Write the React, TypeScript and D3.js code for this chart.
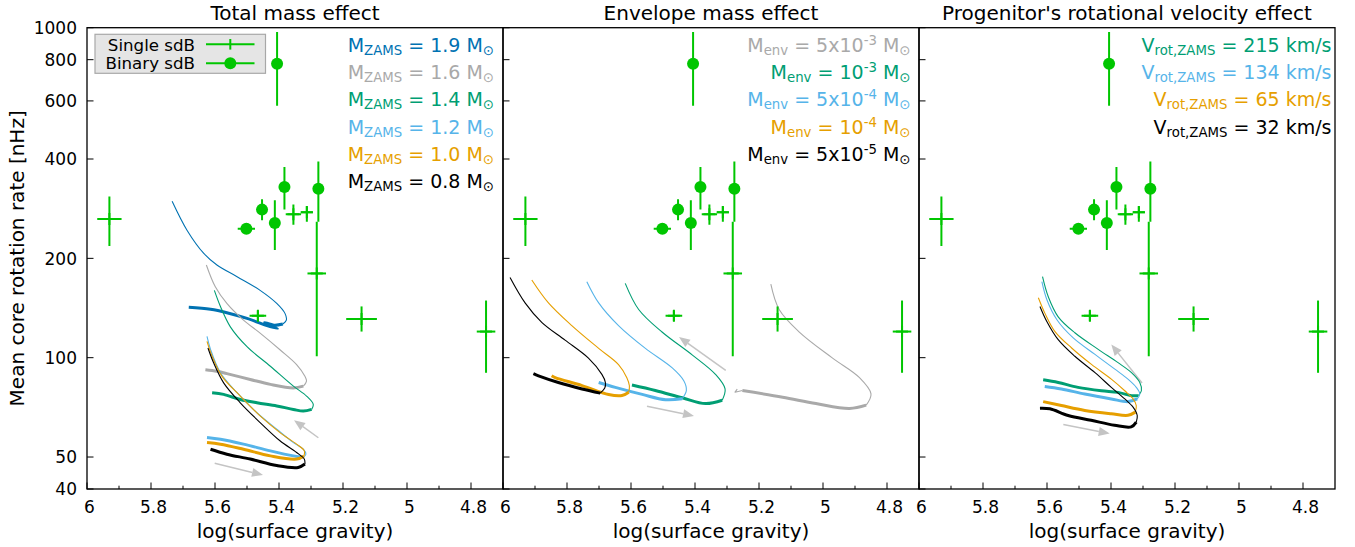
import React, { useEffect } from 'react';
import * as d3 from 'd3';

// ---------- figure text ----------
const panelTitles = ['Total mass effect', 'Envelope mass effect', "Progenitor's rotational velocity effect"];
const xTicks = [6, 5.8, 5.6, 5.4, 5.2, 5, 4.8];
const xMinorTicks = [5.9, 5.7, 5.5, 5.3, 5.1, 4.9];
const yTicks = [40, 50, 100, 200, 400, 600, 800, 1000];

// ---------- observations ----------
const singleLogg = [5.930, 5.355, 5.313, 5.282, 5.466, 5.142, 4.753];
const singleLoggErr = [0.038, 0.024, 0.019, 0.029, 0.026, 0.048, 0.029];
const singleRate = [263, 272, 276, 180, 134, 131, 120];
const singleRateLow = [218, 253, 258, 101, 129, 120, 90];
const singleRateHigh = [308, 291, 288, 258, 139, 143, 149];

const binaryLogg = [5.406, 5.383, 5.277, 5.453, 5.413, 5.502];
const binaryLoggErr = [0, 0, 0, 0, 0, 0.027];
const binaryRate = [777, 329, 325, 281, 256, 246];
const binaryRateLow = [580, 281, 258, 261, 212, 246];
const binaryRateHigh = [971, 378, 393, 302, 300, 246];

// ---------- colours ----------
const cBlue = '#0072B2';
const cGrey = '#A9A9A9';
const cGreen = '#009E73';
const cLightBlue = '#56B4E9';
const cOrange = '#E69F00';
const cBlack = '#000000';
const cObs = '#00C600';
const cArrow = '#C4C4C4';

// ---------- panel 1 : total mass (log g, nHz) ----------
const m19Thin = [[5.734, 298], [5.687, 243], [5.635, 207], [5.594, 191], [5.531, 176], [5.459, 160], [5.407, 146], [5.381, 136], [5.377, 130], [5.388, 126.5]];
const m19Thick = [[5.388, 126.5], [5.415, 125.5], [5.445, 127.8], [5.405, 122.6], [5.44, 125.3], [5.5, 131.5], [5.563, 136.9], [5.614, 140.2], [5.682, 142.2]];
const m16Thin = [[5.627, 191], [5.599, 164], [5.563, 146], [5.511, 130], [5.459, 118.7], [5.397, 105.7], [5.345, 95.3], [5.319, 87.8], [5.314, 84.9], [5.324, 82]];
const m16Thick = [[5.324, 82], [5.355, 81], [5.427, 83], [5.49, 85.9], [5.563, 89.5], [5.594, 91], [5.630, 92]];
const m14Thin = [[5.602, 160], [5.583, 143], [5.552, 124], [5.5, 108], [5.427, 94.2], [5.355, 82], [5.314, 76.5], [5.293, 72.2], [5.298, 69.7]];
const m14Thick = [[5.298, 69.7], [5.324, 68.9], [5.355, 69.7], [5.407, 71.4], [5.469, 73], [5.521, 74.7], [5.573, 77.4], [5.609, 78.3]];
const m12Thin = [[5.625, 116], [5.614, 106], [5.583, 90], [5.531, 78.3], [5.469, 68.1], [5.407, 60.7], [5.355, 55.3], [5.324, 52.8], [5.316, 51], [5.324, 49.9]];
const m12Thick = [[5.324, 49.9], [5.355, 50.4], [5.427, 52.2], [5.511, 54.7], [5.583, 56.6], [5.625, 57.3]];
const m10Thin = [[5.625, 112], [5.609, 101], [5.578, 87.8], [5.521, 76.5], [5.459, 66.6], [5.397, 59.3], [5.345, 54.7], [5.321, 52.2], [5.322, 50.4]];
const m10Thick = [[5.322, 50.4], [5.345, 49.3], [5.427, 50.4], [5.511, 52.8], [5.583, 54.7], [5.625, 55.3]];
const m08Thin = [[5.622, 107], [5.604, 96.3], [5.573, 83.9], [5.521, 73], [5.459, 63.6], [5.397, 56], [5.345, 51.6], [5.321, 49.3], [5.319, 47.6]];
const m08Thick = [[5.319, 47.6], [5.340, 46.5], [5.407, 47.1], [5.49, 49.3], [5.563, 51], [5.614, 52.8]];
const massLabels = ['1.9', '1.6', '1.4', '1.2', '1.0', '0.8'];

// ---------- panel 2 : envelope mass ----------
const e5e3Thin = [[5.163, 167], [5.137, 140], [5.074, 119.6], [4.970, 99.7], [4.886, 87], [4.850, 77.7], [4.865, 71.8]];
const e5e3Thick = [[4.865, 71.8], [4.917, 70.2], [5.022, 72.6], [5.126, 75.9], [5.252, 79.5]];
const e5e3Hook = [[5.252, 79.5], [5.275, 78.6], [5.268, 80.3]];
const e1e3Thin = [[5.618, 168], [5.576, 140], [5.503, 119.6], [5.409, 102], [5.336, 89], [5.306, 80.4], [5.315, 74.3]];
const e1e3Thick = [[5.315, 74.3], [5.367, 72.6], [5.44, 75.6], [5.524, 79.5], [5.597, 82.6]];
const e5e4Thin = [[5.738, 170], [5.701, 146.6], [5.639, 125.1], [5.555, 106.7], [5.471, 93.1], [5.435, 85.1], [5.427, 79.5], [5.44, 75.1]];
const e5e4Thick = [[5.44, 75.1], [5.492, 74.6], [5.565, 77.4], [5.649, 81.3], [5.701, 84.1]];
const e1e4Thin = [[5.91, 172], [5.858, 146.6], [5.785, 125.1], [5.701, 106.7], [5.639, 95.3], [5.613, 87], [5.605, 82.2], [5.607, 78.6]];
const e1e4Thick = [[5.607, 78.6], [5.628, 76.8], [5.67, 77.3], [5.753, 82.3], [5.837, 87], [5.848, 88.1]];
const e5e5Thin = [[5.978, 175], [5.931, 146.6], [5.879, 128], [5.806, 113], [5.733, 99.7], [5.691, 89], [5.68, 84.1], [5.682, 80.9], [5.696, 78.1]];
const e5e5Thick = [[5.696, 78.1], [5.753, 80.4], [5.827, 84.1], [5.889, 88.1], [5.905, 89.4]];
const envMantissa = ['5x10', '10', '5x10', '10', '5x10'];
const envExponent = ['-3', '-3', '-4', '-4', '-5'];

// ---------- panel 3 : rotational velocity ----------
const v215Thin = [[5.614, 176], [5.596, 153], [5.565, 133], [5.513, 119], [5.44, 106], [5.378, 96.6], [5.336, 90.1], [5.31, 84.1], [5.305, 79.4], [5.315, 76.7]];
const v215Thick = [[5.315, 76.7], [5.336, 76.7], [5.378, 78.5], [5.43, 79.4], [5.503, 81.3], [5.565, 84.1], [5.612, 85.7]];
const v134Thin = [[5.616, 170], [5.6, 149.5], [5.569, 130.3], [5.518, 114.8], [5.45, 102.3], [5.388, 92.3], [5.347, 86.1], [5.321, 81.3], [5.31, 77.6], [5.318, 75]];
const v134Thick = [[5.318, 75], [5.347, 73.6], [5.399, 75], [5.482, 77.6], [5.555, 80.4], [5.607, 81.8]];
const v65Thin = [[5.627, 152], [5.606, 136], [5.575, 120], [5.523, 107], [5.461, 95.4], [5.399, 86.1], [5.357, 79.4], [5.331, 75], [5.321, 71.6], [5.324, 68.4]];
const v65Thick = [[5.324, 68.4], [5.347, 66.9], [5.399, 67.6], [5.482, 69.2], [5.555, 71.6], [5.612, 73.6]];
const v32Thin = [[5.622, 143], [5.601, 129], [5.565, 113.4], [5.513, 101], [5.45, 90.1], [5.399, 81.3], [5.357, 75], [5.331, 70.8], [5.318, 66.8], [5.321, 63.8]];
const v32Thick = [[5.321, 63.8], [5.337, 61.7], [5.389, 62.4], [5.462, 64.6], [5.534, 66.8], [5.591, 70], [5.622, 70.3]];
const velLabels = ['215', '134', '65', '32'];

// ---------- arrows (tail, head) ----------
const arrowsP1 = [[[5.277, 57.2], [5.353, 64.6]], [[5.601, 47.9], [5.450, 44.1]]];
const arrowsP2 = [[[5.304, 91.5], [5.450, 115.6]], [[5.550, 71.3], [5.403, 66.6]]];
const arrowsP3 = [[[5.303, 83.8], [5.399, 109.6]], [[5.549, 62.7], [5.404, 58.9]]];

// ---------- layout ----------
const W = 1355, H = 547;
const TOP = 27.7, BOTTOM = 489;
const LEFT0 = 87, PW = 416;
const FONT = 'DejaVu Sans, sans-serif';
const TICK_FS = 17;
const LABEL_FS = 20;

type Pt = number[];
type Track = { color: string; thin: Pt[]; thick: Pt[]; hook?: Pt[] };

const panels: { tracks: Track[]; arrows: Pt[][] }[] = [
  {
    tracks: [
      { color: cBlue, thin: m19Thin, thick: m19Thick },
      { color: cGrey, thin: m16Thin, thick: m16Thick },
      { color: cGreen, thin: m14Thin, thick: m14Thick },
      { color: cLightBlue, thin: m12Thin, thick: m12Thick },
      { color: cOrange, thin: m10Thin, thick: m10Thick },
      { color: cBlack, thin: m08Thin, thick: m08Thick },
    ],
    arrows: arrowsP1,
  },
  {
    tracks: [
      { color: cGrey, thin: e5e3Thin, thick: e5e3Thick, hook: e5e3Hook },
      { color: cGreen, thin: e1e3Thin, thick: e1e3Thick },
      { color: cLightBlue, thin: e5e4Thin, thick: e5e4Thick },
      { color: cOrange, thin: e1e4Thin, thick: e1e4Thick },
      { color: cBlack, thin: e5e5Thin, thick: e5e5Thick },
    ],
    arrows: arrowsP2,
  },
  {
    tracks: [
      { color: cGreen, thin: v215Thin, thick: v215Thick },
      { color: cLightBlue, thin: v134Thin, thick: v134Thick },
      { color: cOrange, thin: v65Thin, thick: v65Thick },
      { color: cBlack, thin: v32Thin, thick: v32Thick },
    ],
    arrows: arrowsP3,
  },
];

const massColors = [cBlue, cGrey, cGreen, cLightBlue, cOrange, cBlack];
const envColors = [cGrey, cGreen, cLightBlue, cOrange, cBlack];
const velColors = [cGreen, cLightBlue, cOrange, cBlack];

const ANN = 19;
const SUB = ANN * 0.7;
const ROW0 = 51.8, ROWSTEP = 27.3;

function Arrow({ x1, y1, x2, y2 }: { x1: number; y1: number; x2: number; y2: number }) {
  const dx = x2 - x1, dy = y2 - y1;
  const len = Math.hypot(dx, dy);
  const ux = dx / len, uy = dy / len;
  const L = 11, w = 4.5;
  const bx = x2 - ux * L, by = y2 - uy * L;
  const pts = [[x2, y2], [bx - uy * w, by + ux * w], [bx + uy * w, by - ux * w]];
  return (
    <g>
      <line x1={x1} y1={y1} x2={bx} y2={by} stroke={cArrow} strokeWidth={1.5} />
      <polygon points={pts.map(p => p.join(',')).join(' ')} fill={cArrow} />
    </g>
  );
}

export default function App() {
  useEffect(() => {
    document.body.style.margin = '0';
  }, []);

  const y = d3.scaleLog().domain([40, 1000]).range([BOTTOM, TOP]);
  const xs = [0, 1, 2].map(i => d3.scaleLinear().domain([6, 4.7]).range([LEFT0 + PW * i, LEFT0 + PW * (i + 1)]));

  const obs = (x: d3.ScaleLinear<number, number>) => (
    <g>
      {singleLogg.map((g, i) => (
        <g key={'s' + i} stroke={cObs} strokeWidth={2}>
          <line x1={x(g - singleLoggErr[i])} x2={x(g + singleLoggErr[i])} y1={y(singleRate[i])} y2={y(singleRate[i])} />
          <line x1={x(g)} x2={x(g)} y1={y(singleRateLow[i])} y2={y(singleRateHigh[i])} />
          <line x1={x(g) - 6} x2={x(g) + 6} y1={y(singleRate[i])} y2={y(singleRate[i])} />
          <line x1={x(g)} x2={x(g)} y1={y(singleRate[i]) - 6} y2={y(singleRate[i]) + 6} />
        </g>
      ))}
      {binaryLogg.map((g, i) => (
        <g key={'b' + i}>
          {binaryLoggErr[i] > 0 && (
            <line x1={x(g - binaryLoggErr[i])} x2={x(g + binaryLoggErr[i])} y1={y(binaryRate[i])} y2={y(binaryRate[i])} stroke={cObs} strokeWidth={2} />
          )}
          <line x1={x(g)} x2={x(g)} y1={y(binaryRateLow[i])} y2={y(binaryRateHigh[i])} stroke={cObs} strokeWidth={2} />
          <circle cx={x(g)} cy={y(binaryRate[i])} r={6} fill={cObs} />
        </g>
      ))}
    </g>
  );

  return (
    <svg width={W} height={H} style={{ display: 'block', position: 'absolute', left: 0, top: 0, background: '#fff' }} fontFamily={FONT}>
      <rect x={0} y={0} width={W} height={H} fill="#fff" />
      <defs>
        {xs.map((x, i) => (
          <clipPath id={'clip' + i} key={i}>
            <rect x={x.range()[0]} y={TOP} width={PW} height={BOTTOM - TOP} />
          </clipPath>
        ))}
      </defs>
      {xs.map((x, pi) => {
        const line = d3
          .line<Pt>()
          .x(d => x(d[0]))
          .y(d => y(d[1]))
          .curve(d3.curveCatmullRom.alpha(0.5));
        const [x0, x1] = x.range();
        return (
          <g key={pi}>
            <g clipPath={`url(#clip${pi})`}>
              {panels[pi].arrows.map((a, k) => (
                <Arrow key={k} x1={x(a[0][0])} y1={y(a[0][1])} x2={x(a[1][0])} y2={y(a[1][1])} />
              ))}
              {panels[pi].tracks.map((t, k) => (
                <g key={k} fill="none" stroke={t.color} strokeLinejoin="round">
                  <path d={line(t.thin) || ''} strokeWidth={1.1} />
                  <path d={line(t.thick) || ''} strokeWidth={3} />
                  {t.hook && <path d={d3.line<Pt>().x(d => x(d[0])).y(d => y(d[1]))(t.hook) || ''} strokeWidth={1.1} />}
                </g>
              ))}
              {obs(x)}
            </g>
            {/* frame */}
            <rect x={x0} y={TOP} width={PW} height={BOTTOM - TOP} fill="none" stroke="#000" strokeWidth={1.3} />
            {/* y ticks */}
            {yTicks.map(v => (
              <line key={'yt' + v} x1={x0} x2={x0 + 6.5} y1={y(v)} y2={y(v)} stroke="#000" strokeWidth={1} />
            ))}
            {/* x ticks */}
            {xTicks.map(v => (
              <g key={'xt' + v}>
                <line x1={x(v)} x2={x(v)} y1={BOTTOM} y2={BOTTOM - 6.5} stroke="#000" strokeWidth={1} />
                <text x={x(v) + 2.5} y={513} fontSize={TICK_FS} textAnchor="middle" fill="#000">
                  {d3.format('~g')(v)}
                </text>
              </g>
            ))}
            {xMinorTicks.map(v => (
              <line key={'xm' + v} x1={x(v)} x2={x(v)} y1={BOTTOM} y2={BOTTOM - 3.3} stroke="#000" strokeWidth={1} />
            ))}
            <text x={(x0 + x1) / 2} y={537.5} fontSize={LABEL_FS} textAnchor="middle" fill="#000">
              log(surface gravity)
            </text>
            <text x={(x0 + x1) / 2} y={19.5} fontSize={LABEL_FS} textAnchor="middle" fill="#000">
              {panelTitles[pi]}
            </text>
          </g>
        );
      })}

      {/* y tick labels */}
      {yTicks.map(v => (
        <text key={'yl' + v} x={77} y={y(v) + 6.2} fontSize={TICK_FS} textAnchor="end" fill="#000">
          {v}
        </text>
      ))}
      <text transform={`translate(24,${(TOP + BOTTOM) / 2}) rotate(-90)`} fontSize={LABEL_FS} textAnchor="middle" fill="#000">
        Mean core rotation rate [nHz]
      </text>

      {/* legend */}
      <rect x={95} y={34.3} width={170.5} height={39} fill="#E5E5E5" stroke="#A8A8A8" strokeWidth={1.2} />
      <text x={195} y={50.6} fontSize={16.67} textAnchor="end" fill="#000">Single sdB</text>
      <text x={195} y={69.4} fontSize={16.67} textAnchor="end" fill="#000">Binary sdB</text>
      <line x1={206} x2={254.5} y1={44.3} y2={44.3} stroke={cObs} strokeWidth={2} />
      <line x1={230.3} x2={230.3} y1={39} y2={49.6} stroke={cObs} strokeWidth={2} />
      <line x1={206} x2={254.5} y1={63.3} y2={63.3} stroke={cObs} strokeWidth={2} />
      <circle cx={230.3} cy={63.3} r={6} fill={cObs} />

      {/* annotations panel 1 */}
      {massLabels.map((m, i) => (
        <text key={'ma' + i} x={494} y={ROW0 + ROWSTEP * i} fontSize={ANN} textAnchor="end" fill={massColors[i]}>
          <tspan>M</tspan>
          <tspan fontSize={SUB} dy={3}>ZAMS</tspan>
          <tspan dy={-3}>{` = ${m} M`}</tspan>
          <tspan fontSize={SUB} dy={3}>⊙</tspan>
        </text>
      ))}
      {/* annotations panel 2 */}
      {envMantissa.map((m, i) => (
        <text key={'ea' + i} x={910.5} y={ROW0 + ROWSTEP * i} fontSize={ANN} textAnchor="end" fill={envColors[i]}>
          <tspan>M</tspan>
          <tspan fontSize={SUB} dy={3}>env</tspan>
          <tspan dy={-3}>{` = ${m}`}</tspan>
          <tspan fontSize={SUB} dy={-7}>{envExponent[i]}</tspan>
          <tspan dy={7}> M</tspan>
          <tspan fontSize={SUB} dy={3}>⊙</tspan>
        </text>
      ))}
      {/* annotations panel 3 */}
      {velLabels.map((v, i) => (
        <text key={'va' + i} x={1331.5} y={ROW0 + ROWSTEP * i} fontSize={ANN} textAnchor="end" fill={velColors[i]}>
          <tspan>V</tspan>
          <tspan fontSize={SUB} dy={3}>rot,ZAMS</tspan>
          <tspan dy={-3}>{` = ${v} km/s`}</tspan>
        </text>
      ))}
    </svg>
  );
}
